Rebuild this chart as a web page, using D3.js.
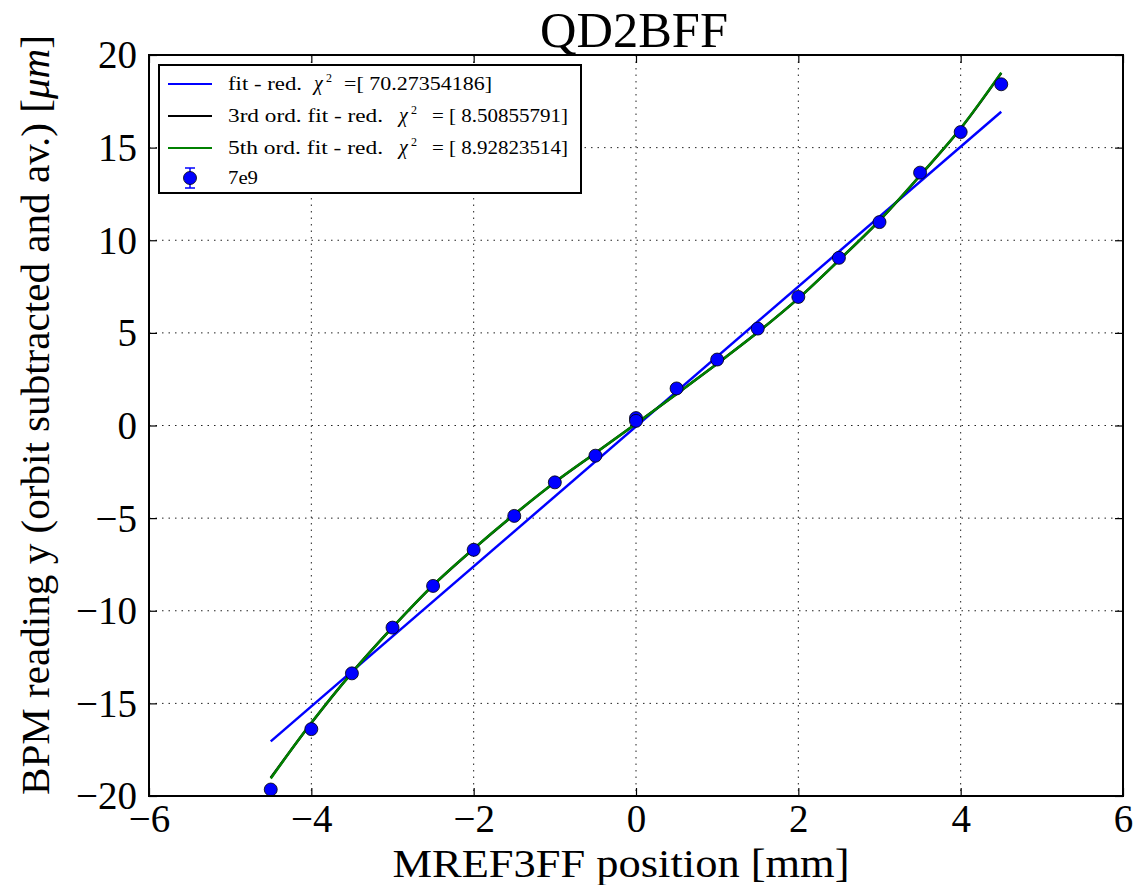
<!DOCTYPE html>
<html>
<head>
<meta charset="utf-8">
<script src="https://cdn.jsdelivr.net/npm/d3@7"></script>
<style>
  html, body { margin: 0; padding: 0; background: #fff; }
  svg { display: block; }
  text { font-family: "Liberation Serif", "DejaVu Serif", serif; fill: #000; }
</style>
</head>
<body>
<svg id="chart" width="1135" height="885"></svg>
<script>
// Measured BPM response vs. mover position (bunch intensity 7e9)
const moverPos = [-4.5, -4, -3.5, -3, -2.5, -2, -1.5, -1, -0.5, 0, 0, 0.5, 1, 1.5, 2, 2.5, 3, 3.5, 4, 4.5];
const bpmY     = [-19.65, -16.39, -13.38, -10.91, -8.66, -6.71, -4.88, -3.07, -1.63, 0.40, 0.25,
                  2.00, 3.56, 5.23, 6.94, 9.05, 10.98, 13.65, 15.84, 18.42];
const bpmErr   = [0.2, 0.2, 0.2, 0.2, 0.2, 0.2, 0.2, 0.2, 0.2, 0.2, 0.2,
                  0.2, 0.2, 0.2, 0.2, 0.2, 0.2, 0.2, 0.2, 0.2];

// Fit curves, sampled along the scan range
const fitX      = [-4.5, -4, -3.5, -3, -2.5, -2, -1.5, -1, -0.5, 0, 0.5, 1, 1.5, 2, 2.5, 3, 3.5, 4, 4.5];
const fit3rdY   = [-19.02, -16.06, -13.34, -10.9, -8.63, -6.66, -4.81, -3.07, -1.49, 0.1,
                   1.70, 3.34, 5.03, 6.86, 8.92, 11.06, 13.49, 16.03, 19.02];
const fit5thY   = [-19.05, -16.05, -13.35, -10.9, -8.62, -6.65, -4.80, -3.06, -1.48, 0.1,
                   1.70, 3.34, 5.03, 6.86, 8.92, 11.07, 13.50, 16.05, 19.05];
const linFitX   = [-4.5, 4.5];
const linFitY   = [-17.05, 16.94];

const xTicks = [-6, -4, -2, 0, 2, 4, 6];
const yTicks = [-20, -15, -10, -5, 0, 5, 10, 15, 20];

const legendLabels = [
  { pre: "fit - red.", post: "=[ 70.27354186]" },
  { pre: "3rd ord. fit - red.", post: "= [ 8.50855791]" },
  { pre: "5th ord. fit - red.", post: "= [ 8.92823514]" },
  { label: "7e9" }
];
const legendColors = ["#0000ff", "#000000", "#008000", "#0000ff"];

const svg = d3.select("#chart");
const plotL = 149, plotR = 1123, plotT = 55, plotB = 796;

const x = d3.scaleLinear().domain([-6, 6]).range([plotL, plotR]);
const y = d3.scaleLinear().domain([-20, 20]).range([plotB, plotT]);
const fmt = d => (d < 0 ? "\u2212" + Math.abs(d) : String(d));

// dotted grid
const grid = svg.append("g");
grid.selectAll(".gx").data(xTicks.slice(1, -1)).join("line")
  .attr("x1", d => x(d)).attr("x2", d => x(d)).attr("y1", plotT).attr("y2", plotB)
  .attr("stroke", "#222").attr("stroke-width", 1).attr("stroke-dasharray", "1.5,5");
grid.selectAll(".gy").data(yTicks.slice(1, -1)).join("line")
  .attr("y1", d => y(d)).attr("y2", d => y(d)).attr("x1", plotL).attr("x2", plotR)
  .attr("stroke", "#222").attr("stroke-width", 1).attr("stroke-dasharray", "1.5,5");

// axes with inward ticks on all sides
const tickLen = 8;
const axB = svg.append("g").attr("transform", `translate(0,${plotB})`)
  .call(d3.axisBottom(x).tickValues(xTicks).tickSizeInner(-tickLen).tickSizeOuter(0).tickPadding(8).tickFormat(fmt));
const axT = svg.append("g").attr("transform", `translate(0,${plotT})`)
  .call(d3.axisTop(x).tickValues(xTicks).tickSizeInner(-tickLen).tickSizeOuter(0).tickFormat(""));
const axL = svg.append("g").attr("transform", `translate(${plotL},0)`)
  .call(d3.axisLeft(y).tickValues(yTicks).tickSizeInner(-tickLen).tickSizeOuter(0).tickPadding(12).tickFormat(fmt));
const axR = svg.append("g").attr("transform", `translate(${plotR},0)`)
  .call(d3.axisRight(y).tickValues(yTicks).tickSizeInner(-tickLen).tickSizeOuter(0).tickFormat(""));
[axB, axT, axL, axR].forEach(a => {
  a.attr("font-family", null);
  a.select(".domain").remove();
  a.selectAll(".tick line").attr("stroke", "#000").attr("stroke-width", 1.2);
  a.selectAll(".tick text").style("font-family", "'Liberation Serif', serif").attr("font-size", 39).attr("fill", "#000");
});
axB.selectAll(".tick text").attr("dy", "0.71em");
axL.selectAll(".tick text").attr("dy", "0.33em");

// fit curves
const curve = d3.line().x(d => x(d[0])).y(d => y(d[1])).curve(d3.curveCatmullRom);
const plot = svg.append("g");
plot.append("path").datum(d3.zip(linFitX, linFitY)).attr("d", curve)
  .attr("fill", "none").attr("stroke", "#0000ff").attr("stroke-width", 2.5);
plot.append("path").datum(d3.zip(fitX, fit3rdY)).attr("d", curve)
  .attr("fill", "none").attr("stroke", "#000").attr("stroke-width", 2.5);
plot.append("path").datum(d3.zip(fitX, fit5thY)).attr("d", curve)
  .attr("fill", "none").attr("stroke", "#008000").attr("stroke-width", 2.5);

// measured points with error bars
const pts = moverPos.map((v, i) => ({ x: v, y: bpmY[i], e: bpmErr[i] }));
plot.selectAll(".eb").data(pts).join("line")
  .attr("x1", d => x(d.x)).attr("x2", d => x(d.x))
  .attr("y1", d => y(d.y - d.e)).attr("y2", d => y(d.y + d.e))
  .attr("stroke", "#0000ff").attr("stroke-width", 1.5);
plot.selectAll(".pt").data(pts).join("circle")
  .attr("cx", d => x(d.x)).attr("cy", d => y(d.y)).attr("r", 6.5)
  .attr("fill", "#0000ff").attr("stroke", "#000").attr("stroke-width", 0.8);

// frame
svg.append("rect").attr("x", plotL).attr("y", plotT).attr("width", plotR - plotL).attr("height", plotB - plotT)
  .attr("fill", "none").attr("stroke", "#000").attr("stroke-width", 2);

// legend
const lg = svg.append("g");
lg.append("rect").attr("x", 159).attr("y", 65).attr("width", 422).attr("height", 128)
  .attr("fill", "#fff").attr("stroke", "#000").attr("stroke-width", 2);
const rowY = [84, 116, 148, 178];
// horizontal layout of each label: [pre end, chi x, post start, post end]
const rowLayout = [
  [302, 314, 344, 492],
  [383, 399, 432, 568],
  [383, 399, 432, 568]
];
const fs = 18;
legendLabels.forEach((it, i) => {
  const yy = rowY[i];
  const col = legendColors[i];
  if (it.pre) {
    const [preEnd, chiX, postX, postEnd] = rowLayout[i];
    lg.append("line").attr("x1", 168).attr("x2", 212).attr("y1", yy).attr("y2", yy)
      .attr("stroke", col).attr("stroke-width", 2);
    lg.append("text").attr("x", 228).attr("y", yy + 6).attr("font-size", fs)
      .attr("textLength", preEnd - 228).attr("lengthAdjust", "spacingAndGlyphs").text(it.pre);
    lg.append("text").attr("x", chiX).attr("y", yy + 6).attr("font-size", 20)
      .attr("font-style", "italic").text("\u03c7");
    lg.append("text").attr("x", chiX + 12).attr("y", yy - 2).attr("font-size", 12).text("2");
    lg.append("text").attr("x", postX).attr("y", yy + 6).attr("font-size", fs)
      .attr("textLength", postEnd - postX).attr("lengthAdjust", "spacingAndGlyphs").text(it.post);
  } else {
    lg.append("line").attr("x1", 190).attr("x2", 190).attr("y1", yy - 10).attr("y2", yy + 10)
      .attr("stroke", col).attr("stroke-width", 1.5);
    lg.selectAll(null).data([yy - 10, yy + 10]).join("line")
      .attr("x1", 185).attr("x2", 195).attr("y1", d => d).attr("y2", d => d)
      .attr("stroke", col).attr("stroke-width", 1.5);
    lg.append("circle").attr("cx", 190).attr("cy", yy).attr("r", 6.5)
      .attr("fill", col).attr("stroke", "#000").attr("stroke-width", 0.8);
    lg.append("text").attr("x", 228).attr("y", yy + 6).attr("font-size", fs)
      .attr("textLength", 30).attr("lengthAdjust", "spacingAndGlyphs").text(it.label);
  }
});

// titles
svg.append("text").attr("x", 634).attr("y", 47).attr("text-anchor", "middle")
  .attr("font-size", 50).attr("textLength", 188).attr("lengthAdjust", "spacingAndGlyphs").text("QD2BFF");
svg.append("text").attr("x", 621).attr("y", 877).attr("text-anchor", "middle")
  .attr("font-size", 40).attr("textLength", 457).attr("lengthAdjust", "spacingAndGlyphs")
  .text("MREF3FF position [mm]");
const yl = svg.append("text").attr("transform", "translate(49,415) rotate(-90)")
  .attr("text-anchor", "middle").attr("font-size", 39)
  .attr("textLength", 760).attr("lengthAdjust", "spacingAndGlyphs");
yl.append("tspan").text("BPM reading y (orbit subtracted and av.) [");
yl.append("tspan").attr("font-style", "italic").text("\u03bcm");
yl.append("tspan").text("]");
</script>
</body>
</html>
